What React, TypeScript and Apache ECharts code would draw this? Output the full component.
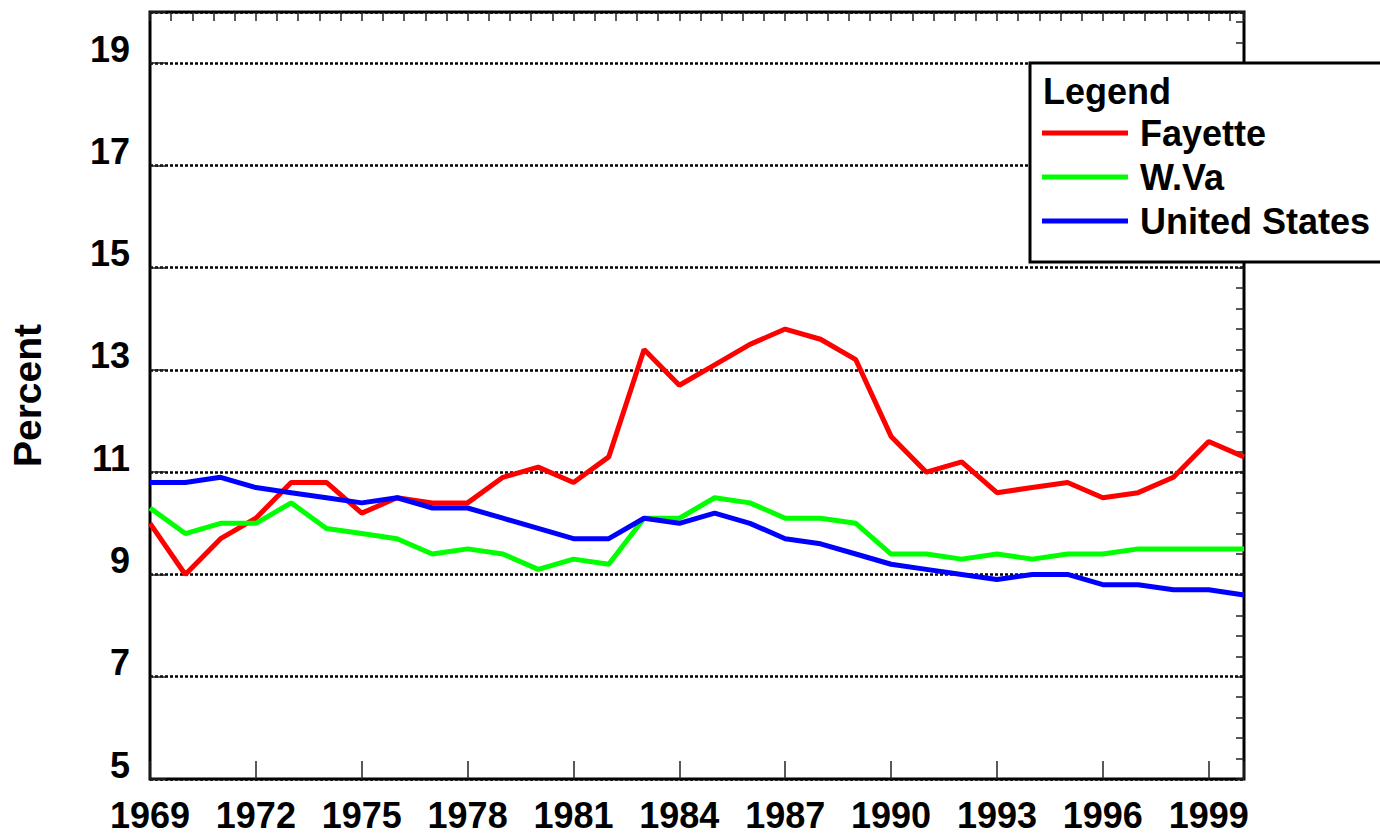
import React, { useEffect, useRef } from "react";
import * as echarts from "echarts";

const years = [
  1969, 1970, 1971, 1972, 1973, 1974, 1975, 1976, 1977, 1978, 1979, 1980,
  1981, 1982, 1983, 1984, 1985, 1986, 1987, 1988, 1989, 1990, 1991, 1992,
  1993, 1994, 1995, 1996, 1997, 1998, 1999, 2000,
];

const fayette = [
  10.0, 9.0, 9.7, 10.1, 10.8, 10.8, 10.2, 10.5, 10.4, 10.4, 10.9, 11.1,
  10.8, 11.3, 13.4, 12.7, 13.1, 13.5, 13.8, 13.6, 13.2, 11.7, 11.0, 11.2,
  10.6, 10.7, 10.8, 10.5, 10.6, 10.9, 11.6, 11.3,
];

const wva = [
  10.3, 9.8, 10.0, 10.0, 10.4, 9.9, 9.8, 9.7, 9.4, 9.5, 9.4, 9.1,
  9.3, 9.2, 10.1, 10.1, 10.5, 10.4, 10.1, 10.1, 10.0, 9.4, 9.4, 9.3,
  9.4, 9.3, 9.4, 9.4, 9.5, 9.5, 9.5, 9.5,
];

const unitedStates = [
  10.8, 10.8, 10.9, 10.7, 10.6, 10.5, 10.4, 10.5, 10.3, 10.3, 10.1, 9.9,
  9.7, 9.7, 10.1, 10.0, 10.2, 10.0, 9.7, 9.6, 9.4, 9.2, 9.1, 9.0,
  8.9, 9.0, 9.0, 8.8, 8.8, 8.7, 8.7, 8.6,
];

const seriesNames = ["Fayette", "W.Va", "United States"];
const seriesColors = ["#ff0000", "#00ff00", "#0000ff"];
const seriesValues = [fayette, wva, unitedStates];

const X_MIN = 1969;
const X_MAX = 2000;
const Y_MIN = 5;
const Y_MAX = 20;

const FONT = "'Liberation Sans', Arial, Helvetica, sans-serif";

export default function App() {
  const ref = useRef<HTMLDivElement>(null);

  useEffect(() => {
    if (!ref.current) return;
    const chart = echarts.init(ref.current, null, { renderer: "svg" });

    const labelStyle = {
      fontSize: 36,
      fontWeight: "bold" as const,
      color: "#000",
      fontFamily: FONT,
    };

    const option: any = {
      animation: false,
      backgroundColor: "#ffffff",
      textStyle: { fontFamily: FONT },
      grid: {
        left: 149,
        right: 136,
        top: 12,
        bottom: 55,
        show: true,
        borderColor: "#000",
        borderWidth: 3,
        backgroundColor: "transparent",
      },
      xAxis: [
        {
          type: "value",
          min: X_MIN,
          max: X_MAX,
          interval: 3,
          axisLine: { show: false },
          axisTick: {
            show: true,
            inside: true,
            length: 18,
            lineStyle: { color: "#222", width: 1.5 },
          },
          axisLabel: {
            ...labelStyle,
            margin: 18,
            formatter: (v: number) => (v === X_MAX ? "" : String(v)),
          },
          splitLine: { show: false },
        },
        {
          type: "value",
          min: X_MIN,
          max: X_MAX,
          interval: 0.6,
          axisLine: { show: false },
          axisTick: {
            show: true,
            inside: true,
            length: 9,
            lineStyle: { color: "#222", width: 1.5 },
          },
          axisLabel: { show: false },
          splitLine: { show: false },
        },
      ],
      yAxis: [
        {
          type: "value",
          min: Y_MIN,
          max: Y_MAX,
          interval: 2,
          name: "Percent",
          nameLocation: "middle",
          nameRotate: 90,
          nameGap: 103,
          nameTextStyle: {
            fontSize: 39,
            fontWeight: "bold",
            color: "#000",
            fontFamily: FONT,
          },
          axisLine: { show: false },
          axisTick: {
            show: true,
            inside: true,
            length: 16,
            lineStyle: { color: "#222", width: 1.5 },
          },
          axisLabel: {
            ...labelStyle,
            margin: 20,
            verticalAlign: "bottom",
            lineHeight: 28,
            formatter: (v: number) => (v === Y_MAX ? "" : String(v)),
          },
          splitLine: {
            show: true,
            lineStyle: { color: "#000", width: 2.5, type: [3, 2] },
          },
        },
        {
          type: "value",
          min: Y_MIN,
          max: Y_MAX,
          interval: 0.4,
          axisLine: { show: false },
          axisTick: {
            show: true,
            inside: true,
            length: 8,
            lineStyle: { color: "#222", width: 1.5 },
          },
          axisLabel: { show: false },
          splitLine: { show: false },
        },
      ],
      legend: {
        orient: "vertical",
        left: 1042,
        top: 115,
        padding: 0,
        itemGap: 8,
        itemWidth: 86,
        itemHeight: 5,
        icon: "rect",
        selectedMode: false,
        z: 20,
        data: seriesNames,
        textStyle: {
          fontSize: 36,
          fontWeight: "bold",
          color: "#000",
          fontFamily: FONT,
          padding: [0, 0, 0, 7],
        },
      },
      graphic: [
        {
          type: "rect",
          z: 10,
          shape: { x: 1030, y: 63, width: 380, height: 199 },
          style: { fill: "#ffffff", stroke: "#000", lineWidth: 3 },
        },
        {
          type: "text",
          z: 11,
          x: 1043,
          y: 91,
          style: {
            text: "Legend",
            fontSize: 36,
            fontWeight: "bold",
            fill: "#000",
            fontFamily: FONT,
            verticalAlign: "middle",
            align: "left",
          },
        },
      ],
      series: seriesNames.map((name, i) => ({
        name,
        type: "line",
        xAxisIndex: 0,
        yAxisIndex: 0,
        showSymbol: false,
        symbol: "none",
        data: years.map((y, j) => [y, seriesValues[i][j]]),
        lineStyle: { color: seriesColors[i], width: 5 },
        itemStyle: { color: seriesColors[i] },
        z: 2 + i,
      })),
    };

    chart.setOption(option);
    return () => {
      chart.dispose();
    };
  }, []);

  return (
    <div
      ref={ref}
      style={{
        position: "fixed",
        left: 0,
        top: 0,
        width: 1380,
        height: 834,
        background: "#fff",
      }}
    />
  );
}
